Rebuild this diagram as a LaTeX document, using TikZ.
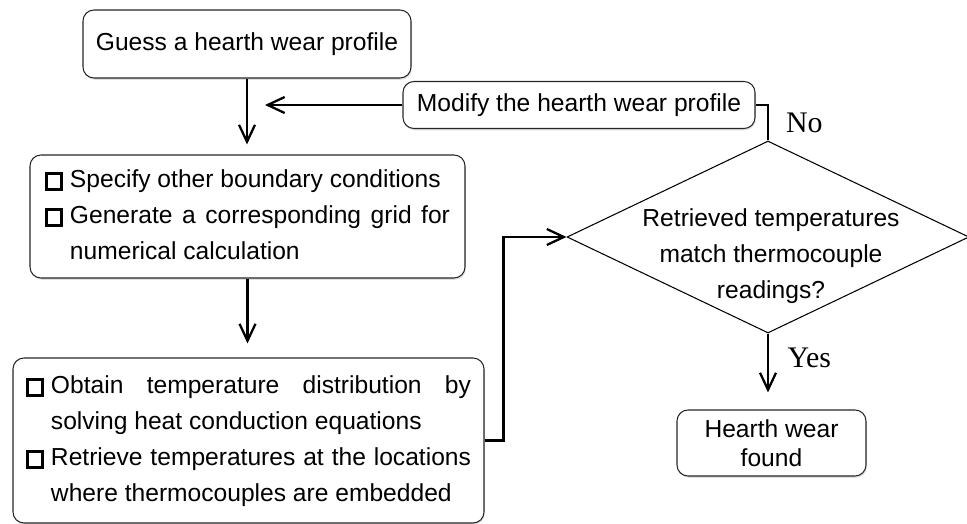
\documentclass[tikz,border=0pt]{standalone}
\usepackage{fontspec}
\setmainfont{Liberation Sans}
\newfontfamily\lblfont{Liberation Serif}
\usetikzlibrary{shapes.geometric,arrows.meta,shadows,positioning}

% hollow square bullet
\newcommand{\bsq}{{\setlength{\fboxrule}{1.7pt}\setlength{\fboxsep}{0pt}\fbox{\rule{0pt}{7pt}\hspace{7pt}}}}

\begin{document}
\begin{tikzpicture}[
  box/.style={draw=black!85, line width=0.6pt, rounded corners=0.22cm, fill=white,
    drop shadow={shadow xshift=0.5pt, shadow yshift=-1pt, opacity=0.25},
    font=\fontsize{14}{20.5}\selectfont, align=center, inner sep=0pt},
  listbox/.style={box, inner xsep=0.3cm},
  decision/.style={draw, diamond, line width=0.6pt, inner sep=0pt, minimum width=8.04cm, minimum height=3.84cm},
  flow/.style={line width=1.3pt, -{Straight Barb[length=3.4mm,width=3.2mm,line width=1.3pt]}},
  yn/.style={font=\lblfont\fontsize{17}{17}\selectfont}
]
\useasboundingbox (0,0) rectangle (19.34,-10.48);

% Left column
\node[box, minimum width=6.56cm, minimum height=1.36cm] (guess) at (4.94,-0.88) {Guess a hearth wear profile};
\node[listbox, minimum height=2.46cm] (spec) at (4.95,-4.33) {%
\begin{tabular}{@{}p{0.5cm}@{}p{7.6cm}@{}}
\bsq & Specify other boundary conditions\strut\\
\bsq & Generate a corresponding grid for\linebreak numerical calculation\strut
\end{tabular}};
\node[listbox, inner xsep=0.26cm, minimum height=3.3cm] (obtain) at (4.97,-8.81) {%
\begin{tabular}{@{}p{0.5cm}@{}p{8.4cm}@{}}
\bsq & Obtain temperature distribution by\linebreak solving heat conduction equations\strut\\
\bsq & Retrieve temperatures at the locations\linebreak where thermocouples are embedded\strut
\end{tabular}};

% Right column
\node[box, minimum width=7.04cm, minimum height=0.94cm] (modify) at (11.58,-2.1) {Modify the hearth wear profile};
\node[decision] (check) at (15.36,-4.74) {};
\node[font=\fontsize{14}{20.5}\selectfont, align=center] (checktxt) at ([xshift=0.06cm,yshift=-0.38cm]check.center) {Retrieved temperatures\\match thermocouple\\readings?};
\node[box, minimum width=3.78cm, minimum height=1.32cm, font=\fontsize{14}{16.5}\selectfont] (found) at (15.43,-8.86) {Hearth wear\\found};
\coordinate (merge) at (5.3,-2.1);

% Connectors
\draw[flow, shorten >=0.2cm] (guess.south) -- (guess.south |- spec.north);
\draw[flow] (modify) -- (merge);
\draw[flow, shorten >=0.28cm] (spec.south) -- (spec.south |- obtain.north);
\draw[flow] (obtain.east) -- ++(0.38,0) |- (check.west);
\draw[line width=1.3pt] (check.north) |- node[yn, pos=0.25, anchor=west, xshift=2.2mm] (no) {No} (modify.east);
\draw[flow, shorten >=0.34cm] (check.south) -- node[yn, pos=0.32, anchor=west, xshift=2.5mm] (yes) {Yes} (check.south |- found.north);

\end{tikzpicture}
\end{document}
